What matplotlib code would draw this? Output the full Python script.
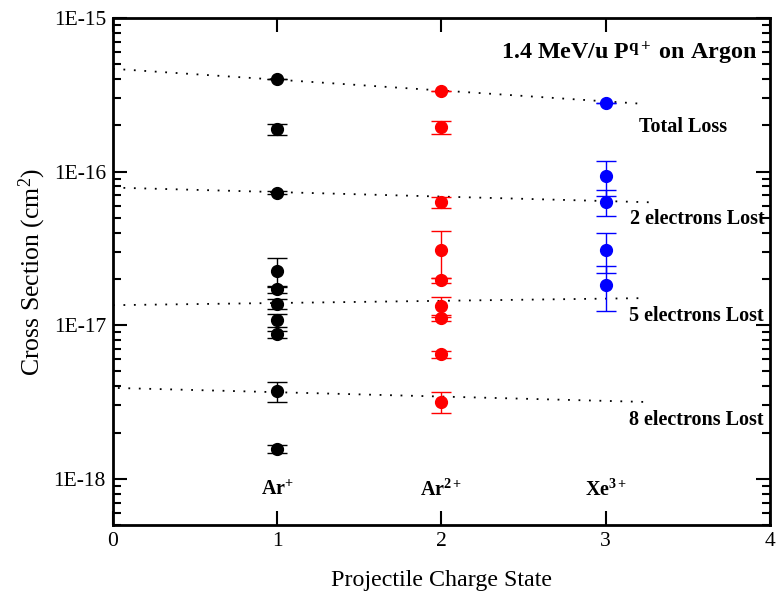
import matplotlib as mpl
import matplotlib.pyplot as plt
import numpy as np

mpl.rcParams['font.family'] = ['Liberation Serif', 'DejaVu Serif']
mpl.rcParams['mathtext.fontset'] = 'custom'
mpl.rcParams['mathtext.rm'] = 'Liberation Serif'
mpl.rcParams['mathtext.it'] = 'Liberation Serif:italic'
mpl.rcParams['mathtext.bf'] = 'Liberation Serif:bold'

# measured cross sections (cm^2) for each projectile
ar1_x = [1, 1, 1, 1, 1, 1, 1, 1, 1, 1]
ar1_y = [4.0e-16, 1.89e-16, 7.3e-17, 2.24e-17, 1.71e-17, 1.38e-17, 1.08e-17, 8.7e-18, 3.72e-18, 1.57e-18]
ar1_err = [0, 0.15e-16, 0.2e-17, 0.48e-17, 0.08e-17, 0.1e-17, 0.11e-17, 0.05e-17, 0.54e-18, 0.1e-18]

ar2_x = [2, 2, 2, 2, 2, 2, 2, 2, 2]
ar2_y = [3.33e-16, 1.94e-16, 6.32e-17, 3.07e-17, 1.96e-17, 1.33e-17, 1.11e-17, 6.45e-18, 3.18e-18]
ar2_err = [0, 0.18e-16, 0.5e-17, 1.05e-17, 0.07e-17, 0.2e-17, 0.05e-17, 0.3e-18, 0.5e-18]

xe3_x = [3, 3, 3, 3, 3]
xe3_y = [2.79e-16, 9.33e-17, 6.38e-17, 3.1e-17, 1.84e-17]
xe3_err = [0, 2.4e-17, 1.25e-17, 0.9e-17, 0.6e-17]

# dotted fit lines (start / end points)
fit_names = ["Total Loss", "2 electrons Lost", "5 electrons Lost", "8 electrons Lost"]
fit_x0 = [0.0, 0.0, 0.0, 0.03]
fit_x1 = [3.21, 3.30, 3.22, 3.26]
fit_y0 = [4.67e-16, 7.87e-17, 1.35e-17, 3.9e-18]
fit_y1 = [2.77e-16, 6.3e-17, 1.5e-17, 3.16e-18]
label_x = [3.74, 3.965, 3.96, 3.96]
label_y = [1.96e-16, 4.88e-17, 1.14e-17, 2.41e-18]

ion_labels = [r"Ar$^{\mathbf{+}}$", r"Ar$^{\mathbf{2+}}$", r"Xe$^{\mathbf{3+}}$"]
ion_x = [1, 2, 3]

fig = plt.figure(figsize=(7.77, 5.97), dpi=100)
ax = fig.add_axes([0.1454, 0.1206, 0.8456, 0.8492])
ax.set_yscale('log')

for x0, x1, y0, y1 in zip(fit_x0, fit_x1, fit_y0, fit_y1):
    ax.plot([x0, x1], [y0, y1], color='black', lw=1.3, linestyle=(0, (1, 4.8)), zorder=1)

ax.errorbar(ar1_x, ar1_y, yerr=ar1_err, fmt='o', color='black', ms=8.5,
            elinewidth=1, capsize=7.5, capthick=1, zorder=3)
ax.errorbar(ar2_x, ar2_y, yerr=ar2_err, fmt='o', color='#ff0000', ms=8.5,
            elinewidth=1, capsize=7.5, capthick=1, zorder=3)
ax.errorbar(xe3_x, xe3_y, yerr=xe3_err, fmt='o', color='#0000ff', ms=8.5,
            elinewidth=1, capsize=7.5, capthick=1, zorder=3)

for name, lx, ly in zip(fit_names, label_x, label_y):
    ax.text(lx, ly, name, ha='right', va='center', fontsize=14.5, fontweight='bold')

for lab, x in zip(ion_labels, ion_x):
    ax.text(x, 8.4e-19, lab, ha='center', va='center', fontsize=14.5, fontweight='bold')

ax.text(3.92, 5.9e-16, r"1.4 MeV/u P$^{\mathbf{q+}}$ on Argon", ha='right', va='center',
        fontsize=17.3, fontweight='bold')

ax.set_xlim(0, 4)
ax.set_ylim(5e-19, 1e-15)
ax.set_xticks([0, 1, 2, 3, 4])
ax.set_yticks([1e-18, 1e-17, 1e-16, 1e-15])
ax.set_yticklabels(["1E-18", "1E-17", "1E-16", "1E-15"])
ax.yaxis.set_minor_locator(mpl.ticker.LogLocator(base=10, subs=np.arange(2, 10)))
ax.yaxis.set_minor_formatter(mpl.ticker.NullFormatter())
ax.tick_params(which='both', direction='in', top=True, right=True, labelsize=15.5, width=1.5)
ax.tick_params(which='major', length=10, pad=5)
ax.tick_params(which='minor', length=6)
for sp in ax.spines.values():
    sp.set_linewidth(2)

ax.set_xlabel("Projectile Charge State", fontsize=17.3, labelpad=14)
ax.set_ylabel(r"Cross Section (cm$^2$)", fontsize=18.5, labelpad=4)

fig.savefig("out.png", dpi=100)
